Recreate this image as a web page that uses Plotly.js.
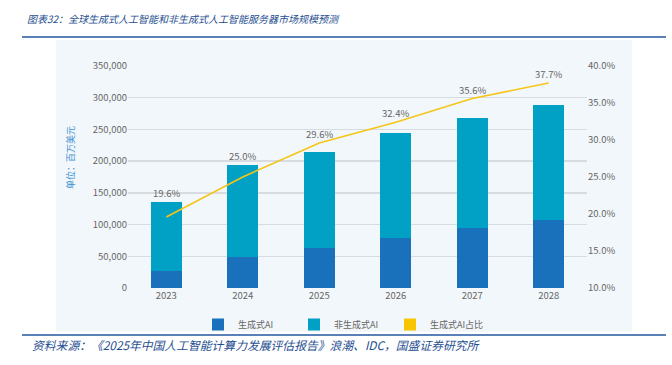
<!DOCTYPE html>
<html><head><meta charset="utf-8">
<script src="https://cdn.plot.ly/plotly-3.0.1.min.js"></script>
<style>html,body{margin:0;padding:0;background:#fff;}#chart{width:672px;height:365px;}</style>
</head><body><div id="chart"></div>
<script>
const years = ['2023','2024','2025','2026','2027','2028'];
const genAI = [26700, 48500, 62500, 78500, 95000, 107500];
const nonGenAI = [109300, 145500, 152500, 166500, 173000, 181000];
const genShare = [0.196, 0.250, 0.296, 0.324, 0.356, 0.377];
const shareLabels = ['19.6%','25.0%','29.6%','32.4%','35.6%','37.7%'];

const F = '"Noto Sans CJK SC", "Noto Sans", sans-serif';
const px = v => (v - 128) / 459;
const py = v => (288 - v) / 222;

const Y1MAX = 350000, Y2MIN = 0.10, Y2MAX = 0.40;

const traces = [
  {type:'bar', name:'生成式AI', x:years, y:genAI, width:0.4, marker:{color:'#1a71bb'}, yaxis:'y'},
  {type:'bar', name:'非生成式AI', x:years, y:nonGenAI, width:0.4, marker:{color:'#00a1c5'}, yaxis:'y'},
  {type:'scatter', mode:'lines', name:'生成式AI占比', x:years, y:genShare, yaxis:'y2',
   line:{color:'#f5c518', width:1.6}, showlegend:false, cliponaxis:false},
  {type:'bar', name:'生成式AI占比', x:[years[0]], y:[null], marker:{color:'#f7c600'}, yaxis:'y'}
];

// label annotations: above the line point, or above the bar top if that is higher
const labelAnns = years.map((yr, i) => {
  const total = genAI[i] + nonGenAI[i];
  const barTopInY2 = Y2MIN + total / Y1MAX * (Y2MAX - Y2MIN);
  return {x: i, xref:'x', yref:'y2', y: Math.max(genShare[i], barTopInY2),
          text: shareLabels[i], showarrow:false, yanchor:'bottom', yshift:0,
          font:{family:F, size:9.5, color:'#666666'}};
});

const layout = {
  width:672, height:365,
  margin:{l:128, r:85, t:66, b:77},
  paper_bgcolor:'#ffffff', plot_bgcolor:'rgba(0,0,0,0)',
  barmode:'stack', bargap:0.6,
  font:{family:F, size:9.5, color:'#666666'},
  xaxis:{type:'category', categoryarray:years, range:[-0.5, years.length - 0.5], showgrid:false, zeroline:false, showline:false, ticks:'',
         tickfont:{family:F, size:9.5, color:'#666666'}},
  yaxis:{range:[0,Y1MAX], dtick:50000, tickformat:',d', showgrid:true, gridcolor:'#d8dbdf', gridwidth:1.5,
         zeroline:false, showline:false, ticks:'', ticklen:0, tickfont:{family:F, size:9.5, color:'#666666'}},
  yaxis2:{range:[Y2MIN,Y2MAX], dtick:0.05, tickformat:'.1%', overlaying:'y', side:'right', showgrid:false,
          zeroline:false, showline:false, tickfont:{family:F, size:9.5, color:'#666666'}},
  showlegend:true,
  legend:{orientation:'h', x:px(198), y:py(310), xanchor:'left', yanchor:'top',
          font:{family:F, size:9, color:'#666666'}, bgcolor:'rgba(0,0,0,0)',
          entrywidth:51, entrywidthmode:'pixels', traceorder:'normal', itemclick:false},
  shapes:[
    {type:'rect', xref:'paper', yref:'paper', x0:px(56), x1:px(632), y0:py(332), y1:py(40),
     fillcolor:'#f2f7fb', line:{width:0}, layer:'below'},
    {type:'line', xref:'paper', yref:'paper', x0:px(22), x1:px(666), y0:py(37), y1:py(37),
     line:{color:'#2458a0', width:1.5}},
    {type:'line', xref:'paper', yref:'paper', x0:px(22), x1:px(666), y0:py(335), y1:py(335),
     line:{color:'#2458a0', width:1.5}}
  ],
  annotations:[
    {xref:'paper', yref:'paper', x:px(25), y:py(19), xanchor:'left', yanchor:'middle', showarrow:false,
     text:'<i>图表32：全球生成式人工智能和非生成式人工智能服务器市场规模预测</i>',
     font:{family:F, size:10, color:'#1f4f91'}},
    {xref:'paper', yref:'paper', x:px(30), y:py(344), xanchor:'left', yanchor:'middle', showarrow:false,
     text:'<i>资料来源：《2025年中国人工智能计算力发展评估报告》浪潮、IDC，国盛证券研究所</i>',
     font:{family:F, size:11.8, color:'#1f4f91'}},
    {xref:'paper', yref:'paper', x:px(70), y:py(158), xanchor:'center', yanchor:'middle', showarrow:false,
     textangle:-90, text:'单位：百万美元', font:{family:F, size:9, color:'#3b8fd3'}}
  ].concat(labelAnns)
};
Plotly.newPlot('chart', traces, layout, {displayModeBar:false, staticPlot:true});
</script></body></html>
